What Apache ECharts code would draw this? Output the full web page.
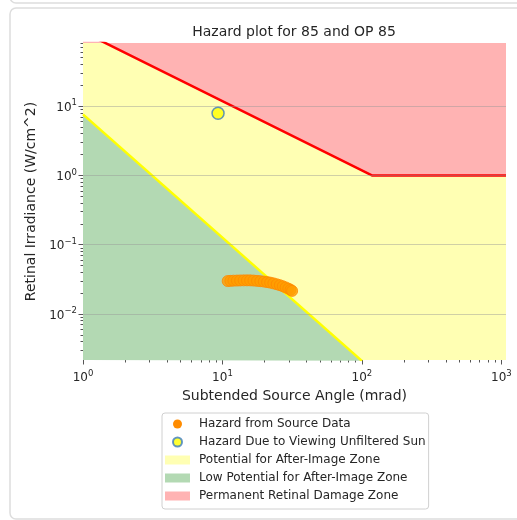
<!DOCTYPE html>
<html>
<head>
<meta charset="utf-8">
<script src="https://cdn.jsdelivr.net/npm/echarts@6/dist/echarts.min.js"></script>
<style>
  html, body { margin: 0; padding: 0; background: #fff; }
  #chart { width: 517px; height: 520px; }
</style>
</head>
<body>
<div id="chart"></div>
<script>
// measured source: subtended angle (mrad) / retinal irradiance (W/cm^2)
const sourceAngle = [10.9, 11.4, 12.0, 12.7, 13.4, 14.2, 15.0, 15.8, 16.7, 17.7, 18.7,
  19.8, 20.9, 22.0, 23.2, 24.5, 25.8, 27.1, 28.4, 29.7, 30.8, 31.6]
const sourceIrradiance = [0.0298, 0.0300, 0.0302, 0.0303, 0.0304, 0.0305, 0.0305, 0.0305, 0.0303, 0.0300, 0.0297,
  0.0293, 0.0288, 0.0283, 0.0276, 0.0268, 0.0260, 0.0251, 0.0241, 0.0232, 0.0223, 0.0215]
const sunPoint = [9.3, 7.9]

// zone boundaries
const burnLimit = [[1, 118], [118, 1], [1080, 1]]
const afterImageLimit = [[1, 7.6], [100, 0.0021]]

const xMajorTicks = [1, 10, 100, 1000]
const xMinorTicks = [2, 3, 4, 5, 6, 7, 8, 9, 20, 30, 40, 50, 60, 70, 80, 90, 200, 300, 400, 500, 600, 700, 800, 900]
const yMajorTicks = [0.01, 0.1, 1, 10]
const yMinorTicks = [0.003, 0.004, 0.005, 0.006, 0.007, 0.008, 0.009, 0.02, 0.03, 0.04, 0.05, 0.06, 0.07, 0.08, 0.09,
  0.2, 0.3, 0.4, 0.5, 0.6, 0.7, 0.8, 0.9, 2, 3, 4, 5, 6, 7, 8, 9, 20, 30, 40, 50, 60, 70, 80]

const font = 'DejaVu Sans'
const textColor = '#262626'
const tickColor = '#555'

const powerLabel = (v) => {
  const e = Math.round(Math.log10(v))
  return '{b|10}{s|' + (e < 0 ? '\u2212' + (-e) : e) + '}'
}
const labelRich = {
  b: { fontSize: 12, color: textColor, fontFamily: font, padding: [3, 0, 0, 0] },
  s: { fontSize: 8.5, color: textColor, fontFamily: font, verticalAlign: 'top' }
}

const chart = echarts.init(document.getElementById('chart'))

const options = {
  animation: false,
  graphic: [
    { type: 'rect', z: -10, silent: true, shape: { x: 10, y: -40, width: 560, height: 43, r: 6 },
      style: { fill: '#fff', stroke: '#dddddd', lineWidth: 1.5 } },
    { type: 'rect', z: -10, silent: true, shape: { x: 10, y: 8, width: 560, height: 511, r: 6 },
      style: { fill: '#fff', stroke: '#dddddd', lineWidth: 1.5 } }
  ],
  title: {
    text: 'Hazard plot for 85 and OP 85',
    left: 294,
    top: 25,
    padding: 0,
    textAlign: 'center',
    textStyle: { fontSize: 14, fontWeight: 'normal', color: textColor, fontFamily: font }
  },
  grid: {
    left: 83,
    right: 11,
    top: 43,
    bottom: 160,
    outerBoundsMode: 'none'
  },
  legend: {
    orient: 'vertical',
    left: 162,
    top: 413,
    padding: [5, 3, 7, 3],
    itemWidth: 25,
    itemHeight: 9,
    itemGap: 6,
    borderColor: '#d0d0d0',
    borderWidth: 1,
    borderRadius: 3,
    backgroundColor: '#fff',
    selectedMode: false,
    textStyle: { fontSize: 12, color: textColor, fontFamily: font, padding: [0, 0, 0, 4] },
    data: [
      { name: 'Hazard from Source Data', icon: 'circle', itemStyle: { color: '#ff8c00', opacity: 1, borderWidth: 0 } },
      { name: 'Hazard Due to Viewing Unfiltered Sun', icon: 'circle' },
      { name: 'Potential for After-Image Zone', icon: 'rect' },
      { name: 'Low Potential for After-Image Zone', icon: 'rect' },
      { name: 'Permanent Retinal Damage Zone', icon: 'rect' }
    ]
  },
  xAxis: [
    {
      type: 'log',
      logBase: 10,
      min: 1,
      max: 1080,
      position: 'bottom',
      axisLine: { show: false },
      splitLine: { show: false },
      axisTick: { show: true, customValues: xMajorTicks, length: 4.5, lineStyle: { color: tickColor } },
      axisLabel: { customValues: xMajorTicks, formatter: powerLabel, rich: labelRich, margin: 9 },
      name: 'Subtended Source Angle (mrad)',
      nameLocation: 'middle',
      nameGap: 29,
      nameTextStyle: { fontSize: 14, color: textColor, fontFamily: font }
    },
    {
      type: 'log',
      logBase: 10,
      min: 1,
      max: 1080,
      position: 'bottom',
      axisLine: { show: false },
      splitLine: { show: false },
      axisLabel: { show: false },
      axisTick: { show: true, customValues: xMinorTicks, length: 2.5, lineStyle: { color: tickColor } }
    }
  ],
  yAxis: [
    {
      type: 'log',
      logBase: 10,
      min: 0.00216,
      max: 81.6,
      position: 'left',
      axisLine: { show: false },
      splitLine: { show: false },
      axisTick: { show: true, customValues: yMajorTicks, length: 4.5, lineStyle: { color: tickColor } },
      axisLabel: { customValues: yMajorTicks, formatter: powerLabel, rich: labelRich, margin: 6 },
      name: 'Retinal Irradiance (W/cm^2)',
      nameLocation: 'middle',
      nameGap: 43,
      nameTextStyle: { fontSize: 14, color: textColor, fontFamily: font }
    },
    {
      type: 'log',
      logBase: 10,
      min: 0.00216,
      max: 81.6,
      position: 'left',
      axisLine: { show: false },
      splitLine: { show: false },
      axisLabel: { show: false },
      axisTick: { show: true, customValues: yMinorTicks, length: 2.5, lineStyle: { color: tickColor } }
    }
  ],
  series: [
    {
      name: 'Potential for After-Image Zone',
      type: 'line',
      data: burnLimit,
      symbol: 'none',
      silent: true,
      z: 1,
      itemStyle: { color: '#ffffb3' },
      lineStyle: { width: 0 },
      areaStyle: { color: '#ffffb3', opacity: 1, origin: 'start' }
    },
    {
      name: 'Low Potential for After-Image Zone',
      type: 'line',
      data: afterImageLimit,
      symbol: 'none',
      silent: true,
      z: 1,
      itemStyle: { color: '#b3d9b3' },
      lineStyle: { color: '#ffff00', width: 2.5 },
      areaStyle: { color: '#b3d9b3', opacity: 1, origin: 'start' }
    },
    {
      name: 'Permanent Retinal Damage Zone',
      type: 'line',
      data: burnLimit,
      symbol: 'none',
      silent: true,
      z: 1,
      itemStyle: { color: '#ffb3b3' },
      lineStyle: { color: '#ff0000', width: 2.5 },
      areaStyle: { color: '#ffb3b3', opacity: 1, origin: 'end' },
      markLine: {
        silent: true,
        z: 2,
        symbol: ['none', 'none'],
        label: { show: false },
        lineStyle: { color: 'rgba(150,150,150,0.45)', width: 1, type: 'solid' },
        data: yMajorTicks.map((v) => ({ yAxis: v }))
      }
    },
    {
      name: 'Hazard from Source Data',
      type: 'scatter',
      xAxisIndex: 0,
      yAxisIndex: 0,
      z: 5,
      data: sourceAngle.map((a, i) => [a, sourceIrradiance[i]]),
      symbol: 'circle',
      symbolSize: 11,
      itemStyle: { color: '#ff9d00', opacity: 0.8, borderColor: '#ff8800', borderWidth: 1 }
    },
    {
      name: 'Hazard Due to Viewing Unfiltered Sun',
      type: 'scatter',
      xAxisIndex: 0,
      yAxisIndex: 0,
      z: 6,
      data: [sunPoint],
      symbol: 'circle',
      symbolSize: 12,
      itemStyle: { color: '#ffff00', borderColor: '#3b7cc0', borderWidth: 1.5 }
    }
  ]
}

chart.setOption(options)
</script>
</body>
</html>
